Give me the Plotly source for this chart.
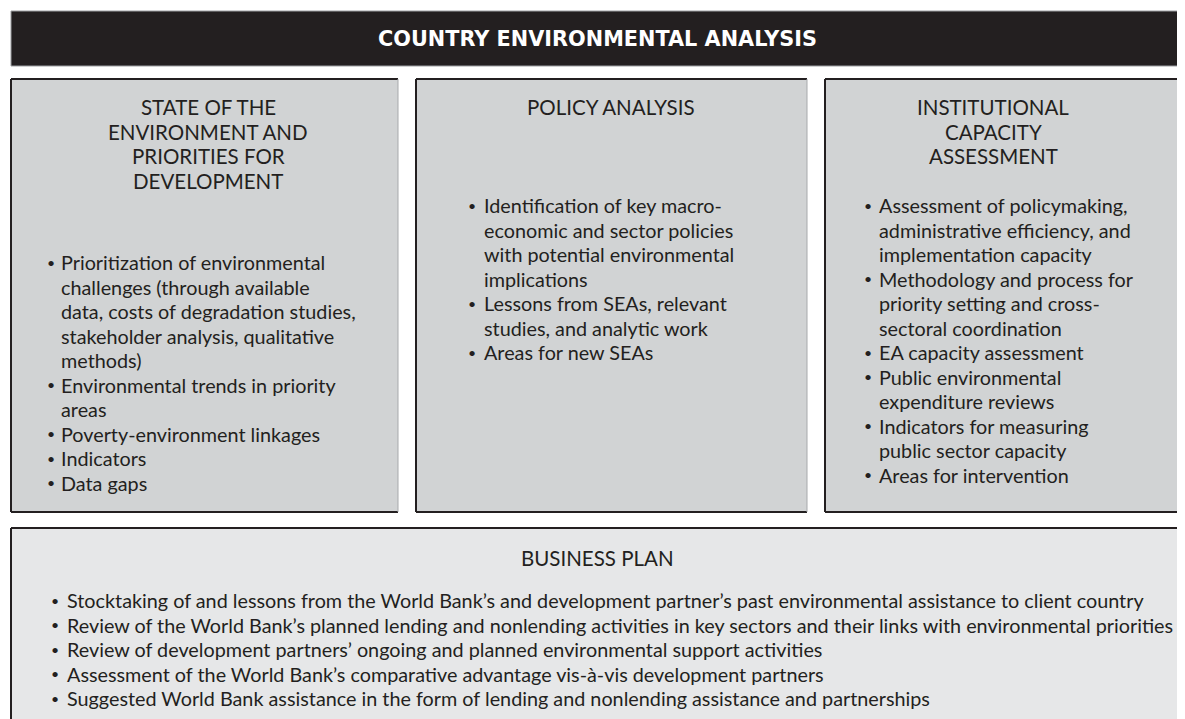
import plotly.graph_objects as go

FONT = "Lato"
INK = "#231f20"
PANEL = "#d1d3d4"
PLAN = "#e6e7e8"
EDGE = "#a7a9ac"

TITLE = "COUNTRY ENVIRONMENTAL ANALYSIS"

STATE_HEADING = ["STATE OF THE", "ENVIRONMENT AND", "PRIORITIES FOR", "DEVELOPMENT"]
POLICY_HEADING = ["POLICY ANALYSIS"]
CAPACITY_HEADING = ["INSTITUTIONAL", "CAPACITY", "ASSESSMENT"]

STATE_ITEMS = [
    ["Prioritization of environmental", "challenges (through available",
     "data, costs of degradation studies,", "stakeholder analysis, qualitative",
     "methods)"],
    ["Environmental trends in priority", "areas"],
    ["Poverty-environment linkages"],
    ["Indicators"],
    ["Data gaps"],
]
POLICY_ITEMS = [
    ["Identification of key macro-", "economic and sector policies",
     "with potential environmental", "implications"],
    ["Lessons from SEAs, relevant", "studies, and analytic work"],
    ["Areas for new SEAs"],
]
CAPACITY_ITEMS = [
    ["Assessment of policymaking,", "administrative efficiency, and",
     "implementation capacity"],
    ["Methodology and process for", "priority setting and cross-",
     "sectoral coordination"],
    ["EA capacity assessment"],
    ["Public environmental", "expenditure reviews"],
    ["Indicators for measuring", "public sector capacity"],
    ["Areas for intervention"],
]

PLAN_HEADING = ["BUSINESS PLAN"]
PLAN_ITEMS = [
    ["Stocktaking of and lessons from the World Bank\u2019s and development partner\u2019s past environmental assistance to client country"],
    ["Review of the World Bank\u2019s planned lending and nonlending activities in key sectors and their links with environmental priorities"],
    ["Review of development partners\u2019 ongoing and planned environmental support activities"],
    ["Assessment of the World Bank\u2019s comparative advantage vis-\u00e0-vis development partners"],
    ["Suggested World Bank assistance in the form of lending and nonlending assistance and partnerships"],
]

W, H = 1185, 719
PAD = 8  # page body margin, so axis units equal window pixels
LINE = 24.5
SIZE = 19.8
HEAD_SIZE = 20.5

# box geometry in window pixels; bx is the bullet centre, tx the text start
panels = [
    dict(x0=11, x1=398, y0=79, y1=512, fill=PANEL, hx=208, hy=107,
         bx=51, tx=59, by=262, heading=STATE_HEADING, items=STATE_ITEMS),
    dict(x0=416, x1=807, y0=79, y1=512, fill=PANEL, hx=611, hy=107,
         bx=472, tx=482, by=205, heading=POLICY_HEADING, items=POLICY_ITEMS),
    dict(x0=825, x1=1184, y0=79, y1=512, fill=PANEL, hx=993, hy=107,
         bx=868, tx=877, by=205, heading=CAPACITY_HEADING, items=CAPACITY_ITEMS),
    dict(x0=11, x1=1184, y0=528, y1=740, fill=PLAN, hx=597, hy=558,
         bx=55, tx=65, by=600, heading=PLAN_HEADING, items=PLAN_ITEMS),
]

fig = go.Figure()
shapes = []
annotations = []

# title bar
shapes.append(dict(type="rect", x0=11, x1=1184, y0=11, y1=66,
                   fillcolor=INK, line=dict(color="#9d9fa2", width=1)))
annotations.append(dict(x=597, y=39, text="<b>" + TITLE + "</b>",
                        font=dict(family="DejaVu Sans", size=20.8, color="white")))

for p in panels:
    shapes.append(dict(type="rect", x0=p["x0"], x1=p["x1"], y0=p["y0"], y1=p["y1"],
                       fillcolor=p["fill"], line=dict(width=0), layer="below"))
    # dark top, left and bottom rules, pale right edge
    for seg in [(p["x0"], p["y0"], p["x1"], p["y0"]),
                (p["x0"], p["y0"], p["x0"], p["y1"]),
                (p["x0"], p["y1"], p["x1"], p["y1"])]:
        shapes.append(dict(type="line", x0=seg[0], y0=seg[1], x1=seg[2], y1=seg[3],
                           line=dict(color=INK, width=2)))
    shapes.append(dict(type="line", x0=p["x1"], y0=p["y0"], x1=p["x1"], y1=p["y1"],
                       line=dict(color=EDGE, width=1)))

    for i, h in enumerate(p["heading"]):
        annotations.append(dict(x=p["hx"], y=p["hy"] + i * LINE, text=h,
                                font=dict(family=FONT, size=HEAD_SIZE, color=INK)))

    row = 0
    for item in p["items"]:
        annotations.append(dict(x=p["bx"], y=p["by"] + row * LINE, text="\u2022",
                                font=dict(family=FONT, size=14, color=INK)))
        for line in item:
            annotations.append(dict(x=p["tx"], y=p["by"] + row * LINE, text=line,
                                    xanchor="left",
                                    font=dict(family=FONT, size=SIZE, color=INK)))
            row += 1

for a in annotations:
    a.update(xref="x", yref="y", showarrow=False, yanchor="middle")
    a.setdefault("xanchor", "center")

fig.update_layout(
    width=W - PAD,
    height=H - PAD,
    margin=dict(t=0, b=0, l=0, r=0),
    paper_bgcolor="white",
    plot_bgcolor="white",
    shapes=shapes,
    annotations=annotations,
    showlegend=False,
    xaxis=dict(range=[PAD, W], visible=False, fixedrange=True),
    yaxis=dict(range=[H, PAD], visible=False, fixedrange=True),
)

fig.write_html("out.html", config={"displayModeBar": False})
